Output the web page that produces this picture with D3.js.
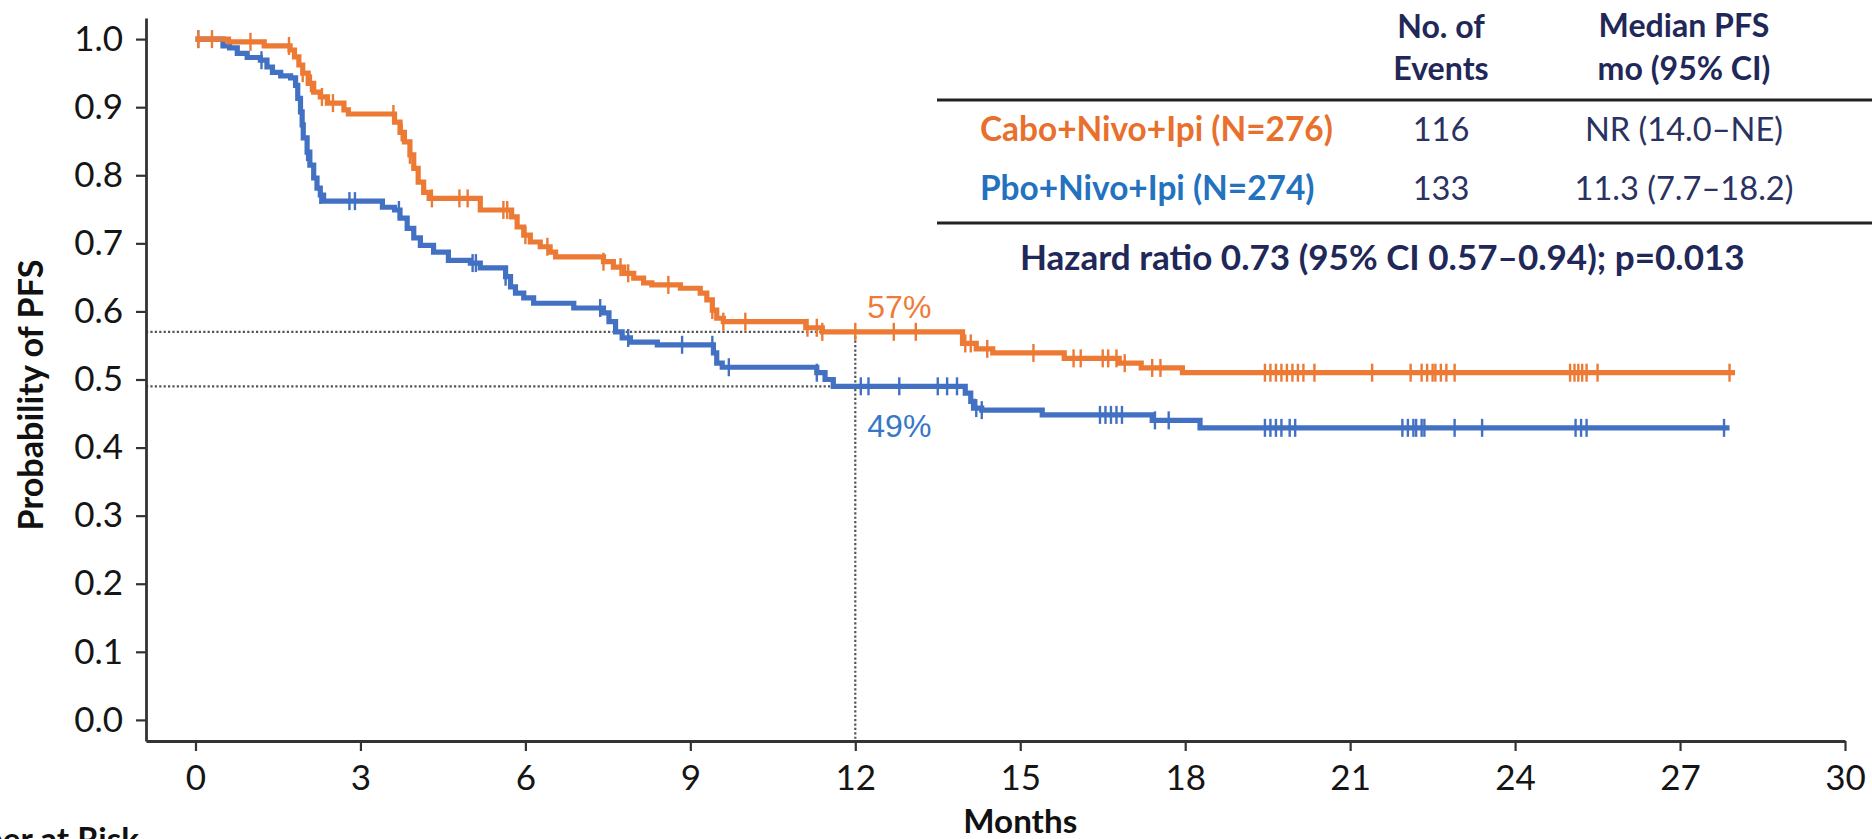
<!DOCTYPE html>
<html>
<head>
<meta charset="utf-8">
<script src="https://cdn.jsdelivr.net/npm/d3@7"></script>
<style>
  html, body { margin: 0; padding: 0; background: #fff; overflow: hidden; }
  svg { display: block; font-family: Lato, "Open Sans", "Noto Sans", sans-serif; }
</style>
</head>
<body>
<svg id="chart" width="1872" height="839"></svg>
<script>
// ---- Kaplan–Meier estimates (months, probability of PFS after each step) ----
const caboTimes = [0, 0.6, 1.25, 1.72, 1.80, 1.88, 1.95, 2.05, 2.15, 2.27, 2.40, 2.70, 2.78,
  3.62, 3.72, 3.80, 3.90, 3.97, 4.05, 4.15, 4.25, 5.18, 5.75, 5.85, 5.97, 6.09, 6.27, 6.45, 6.55,
  7.42, 7.60, 7.79, 7.97, 8.15, 8.30, 8.82, 9.18, 9.30, 9.40, 9.48, 9.60, 11.10, 11.40,
  13.95, 14.20, 14.50, 15.80, 16.80, 17.20, 17.95];
const caboSurv = [1.000, 0.996, 0.990, 0.984, 0.974, 0.962, 0.950, 0.935, 0.922, 0.915, 0.906, 0.896, 0.890,
  0.878, 0.863, 0.849, 0.830, 0.810, 0.790, 0.775, 0.766, 0.749, 0.739, 0.724, 0.712, 0.702, 0.695, 0.687, 0.680,
  0.673, 0.665, 0.656, 0.649, 0.642, 0.639, 0.634, 0.627, 0.617, 0.602, 0.590, 0.585, 0.576, 0.570,
  0.553, 0.545, 0.539, 0.531, 0.524, 0.517, 0.510];
const caboFollowUp = 28.0;
const caboCensored = [0.05, 0.3, 1.0, 1.7, 1.95, 2.1, 2.3, 2.5, 3.6, 3.75, 3.9, 4.3, 4.8, 4.95, 5.6, 5.67,
  6.0, 6.4, 7.42, 7.73, 7.87, 8.6, 9.4, 9.6, 10.0, 11.13, 11.3, 11.4, 12.0, 12.7, 13.1, 14.0, 14.1, 14.4,
  15.24, 15.97, 16.1, 16.5, 16.6, 16.75, 16.9, 17.4, 17.55, 19.45, 19.55, 19.65, 19.75, 19.85, 19.95,
  20.05, 20.15, 20.35, 21.4, 22.1, 22.3, 22.4, 22.5, 22.55, 22.65, 22.75, 22.9, 25.0, 25.08, 25.15,
  25.22, 25.3, 25.5, 27.9];

const pboTimes = [0, 0.50, 0.62, 0.76, 0.94, 1.18, 1.30, 1.40, 1.55, 1.73, 1.82, 1.86, 1.91, 1.94, 1.96,
  2.03, 2.08, 2.15, 2.21, 2.27, 2.33, 3.40, 3.62, 3.72, 3.85, 3.97, 4.09, 4.33, 4.60, 5.00, 5.18, 5.64,
  5.73, 5.82, 5.97, 6.15, 6.88, 7.42, 7.52, 7.64, 7.76, 7.91, 8.40, 9.42, 9.48, 9.58, 11.30, 11.45,
  11.60, 14.00, 14.10, 14.15, 14.30, 15.40, 17.40, 18.27];
const pboSurv = [1.000, 0.990, 0.987, 0.979, 0.973, 0.969, 0.959, 0.951, 0.946, 0.943, 0.932, 0.913, 0.893, 0.874, 0.855,
  0.834, 0.815, 0.796, 0.781, 0.771, 0.762, 0.753, 0.749, 0.737, 0.722, 0.708, 0.697, 0.687, 0.675, 0.671, 0.664, 0.651,
  0.636, 0.627, 0.620, 0.612, 0.605, 0.598, 0.585, 0.570, 0.561, 0.555, 0.551, 0.539, 0.524, 0.518, 0.510, 0.500,
  0.490, 0.480, 0.468, 0.458, 0.455, 0.448, 0.440, 0.429];
const pboFollowUp = 27.9;
const pboCensored = [0.05, 1.2, 2.03, 2.27, 2.8, 2.9, 3.7, 5.04, 5.1, 5.64, 7.36, 7.87, 8.85, 9.4, 9.7,
  11.3, 12.1, 12.24, 12.8, 13.5, 13.67, 13.85, 14.2, 14.3, 16.45, 16.55, 16.65, 16.75, 16.85, 17.45, 17.7,
  19.45, 19.55, 19.65, 19.75, 19.9, 20.0, 21.95, 22.05, 22.15, 22.2, 22.3, 22.35, 22.9, 23.4,
  25.1, 25.2, 25.3, 27.8];

// ---- axes ----
const monthTicks = [0, 3, 6, 9, 12, 15, 18, 21, 24, 27, 30];
const probTicks = [0, 0.1, 0.2, 0.3, 0.4, 0.5, 0.6, 0.7, 0.8, 0.9, 1.0];

// ---- 12-month landmark ----
const landmarkMonth = 12;
const landmarkSurv = [0.57, 0.49];
const landmarkLabels = ["57%", "49%"];

// ---- summary table ----
const armNames = ["Cabo+Nivo+Ipi (N=276)", "Pbo+Nivo+Ipi (N=274)"];
const armEvents = ["116", "133"];
const armMedians = ["NR (14.0\u2013NE)", "11.3 (7.7\u201318.2)"];
const eventsHeader = ["No. of", "Events"];
const medianHeader = ["Median PFS", "mo (95% CI)"];
const hazardText = "Hazard ratio 0.73 (95% CI 0.57\u20130.94); p=0.013";

// ---- styling ----
const orange = "#EC7A35";
const blue = "#4270C2";
const orangeText = "#E8702C";
const blueText = "#2372BF";
const navy = "#1F2858";
const axisColor = "#333";

const svg = d3.select("#chart");

const x = d3.scaleLinear().domain([-0.9, 30]).range([146, 1845]);
const y = d3.scaleLinear().domain([-0.031, 1.031]).range([741, 18]);

// scale a text's font size so that it spans the given width
function fitWidth(sel, w) {
  const cur = parseFloat(sel.attr("font-size"));
  const len = sel.node().getComputedTextLength();
  const size = cur * w / len;
  sel.attr("font-size", size);
  return size;
}

// landmark guides (dotted)
const guides = svg.append("g")
  .attr("stroke", "#555").attr("stroke-width", 2.2).attr("stroke-dasharray", "2.2,2.2").attr("fill", "none");
landmarkSurv.forEach(s => {
  guides.append("line")
    .attr("x1", x.range()[0]).attr("x2", x(landmarkMonth))
    .attr("y1", y(s)).attr("y2", y(s));
});
guides.append("line")
  .attr("x1", x(landmarkMonth)).attr("x2", x(landmarkMonth))
  .attr("y1", y(d3.max(landmarkSurv))).attr("y2", y.range()[0]);

// axes
const yAxis = svg.append("g")
  .attr("transform", `translate(${x.range()[0]},0)`)
  .call(d3.axisLeft(y).tickValues(probTicks).tickFormat(d3.format(".1f"))
    .tickSize(10).tickSizeOuter(0).tickPadding(13));
const xAxis = svg.append("g")
  .attr("transform", `translate(0,${y.range()[0]})`)
  .call(d3.axisBottom(x).tickValues(monthTicks).tickFormat(d3.format("d"))
    .tickSize(10).tickSizeOuter(0).tickPadding(14));

[yAxis, xAxis].forEach(g => {
  g.select(".domain").attr("stroke", axisColor).attr("stroke-width", 2.8);
  g.selectAll(".tick line").attr("stroke", axisColor).attr("stroke-width", 2.2);
  g.selectAll(".tick text")
    .attr("font-family", "Lato, 'Open Sans', sans-serif")
    .attr("font-size", 35).attr("fill", "#151515");
});

// survival curves
const stepLine = d3.line().x(d => x(d[0])).y(d => y(d[1])).curve(d3.curveStepAfter);

function survAt(times, surv, t) {
  const i = d3.bisectRight(times, t) - 1;
  return surv[Math.max(0, i)];
}

function drawArm(times, surv, followUp, censored, color) {
  const pts = times.map((t, i) => [t, surv[i]]);
  pts.push([followUp, surv[surv.length - 1]]);
  const g = svg.append("g");
  g.append("path")
    .attr("d", stepLine(pts))
    .attr("fill", "none").attr("stroke", color)
    .attr("stroke-width", 5.2).attr("stroke-linejoin", "miter");
  g.selectAll("line.cens").data(censored).join("line")
    .attr("class", "cens")
    .attr("x1", d => x(d)).attr("x2", d => x(d))
    .attr("y1", d => y(survAt(times, surv, d)) - 9)
    .attr("y2", d => y(survAt(times, surv, d)) + 9)
    .attr("stroke", color).attr("stroke-width", 2.4);
}

drawArm(pboTimes, pboSurv, pboFollowUp, pboCensored, blue);
drawArm(caboTimes, caboSurv, caboFollowUp, caboCensored, orange);

// landmark labels
const lmColors = ["#EE7B37", "#3677C6"];
const lmDy = [-14, 51];
landmarkLabels.forEach((lab, i) => {
  svg.append("text")
    .attr("x", x(landmarkMonth) + 12)
    .attr("y", y(landmarkSurv[i]) + lmDy[i])
    .attr("font-family", "'Liberation Sans', Arial, sans-serif")
    .attr("font-size", 32)
    .attr("fill", lmColors[i])
    .text(lab);
});

// axis titles
const yTitle = svg.append("text")
  .attr("transform", `translate(43,395) rotate(-90)`)
  .attr("text-anchor", "middle")
  .attr("font-weight", 700).attr("font-size", 30).attr("fill", "#111")
  .text("Probability of PFS");
fitWidth(yTitle, 271);

const xTitle = svg.append("text")
  .attr("x", x(15)).attr("y", 833)
  .attr("text-anchor", "middle")
  .attr("font-weight", 700).attr("font-size", 30).attr("fill", "#111")
  .text("Months");
const titleSize = fitWidth(xTitle, 114);

svg.append("text")
  .attr("x", 139).attr("y", 851)
  .attr("text-anchor", "end")
  .attr("font-weight", 700).attr("font-size", titleSize).attr("fill", "#111")
  .text("Number at Risk");

// summary table
const colEvents = 1441, colMedian = 1684, rowLabelX = 980;
const rowBase = [141, 200];

const head = svg.append("g").attr("fill", navy).attr("font-weight", 700).attr("text-anchor", "middle");
const medHead = head.append("text").attr("x", colMedian).attr("y", 37).attr("font-size", 30).text(medianHeader[0]);
const headSize = fitWidth(medHead, 171);
head.append("text").attr("x", colMedian).attr("y", 80).attr("font-size", headSize).text(medianHeader[1]);
head.append("text").attr("x", colEvents).attr("y", 38).attr("font-size", headSize).text(eventsHeader[0]);
head.append("text").attr("x", colEvents).attr("y", 80).attr("font-size", headSize).text(eventsHeader[1]);

const rules = svg.append("g").attr("stroke", "#222").attr("stroke-width", 3);
[100, 223].forEach(ry => rules.append("line").attr("x1", 937).attr("x2", 1872).attr("y1", ry).attr("y2", ry));

const armColors = [orangeText, blueText];
const lab0 = svg.append("text").attr("x", rowLabelX).attr("y", rowBase[0])
  .attr("font-weight", 700).attr("font-size", 30).attr("fill", armColors[0]).text(armNames[0]);
const labSize = fitWidth(lab0, 353);
svg.append("text").attr("x", rowLabelX).attr("y", rowBase[1])
  .attr("font-weight", 700).attr("font-size", labSize).attr("fill", armColors[1]).text(armNames[1]);

const cells = svg.append("g").attr("fill", "#2A3262").attr("text-anchor", "middle");
const med1 = cells.append("text").attr("x", colMedian).attr("y", rowBase[1]).attr("font-size", 30).text(armMedians[1]);
const cellSize = fitWidth(med1, 219);
cells.append("text").attr("x", colMedian).attr("y", rowBase[0]).attr("font-size", cellSize).text(armMedians[0]);
armEvents.forEach((ev, i) => {
  cells.append("text").attr("x", colEvents).attr("y", rowBase[i]).attr("font-size", cellSize).text(ev);
});

const hz = svg.append("text").attr("x", 1020).attr("y", 270)
  .attr("font-weight", 700).attr("font-size", 30).attr("fill", navy).text(hazardText);
fitWidth(hz, 725);
</script>
</body>
</html>
